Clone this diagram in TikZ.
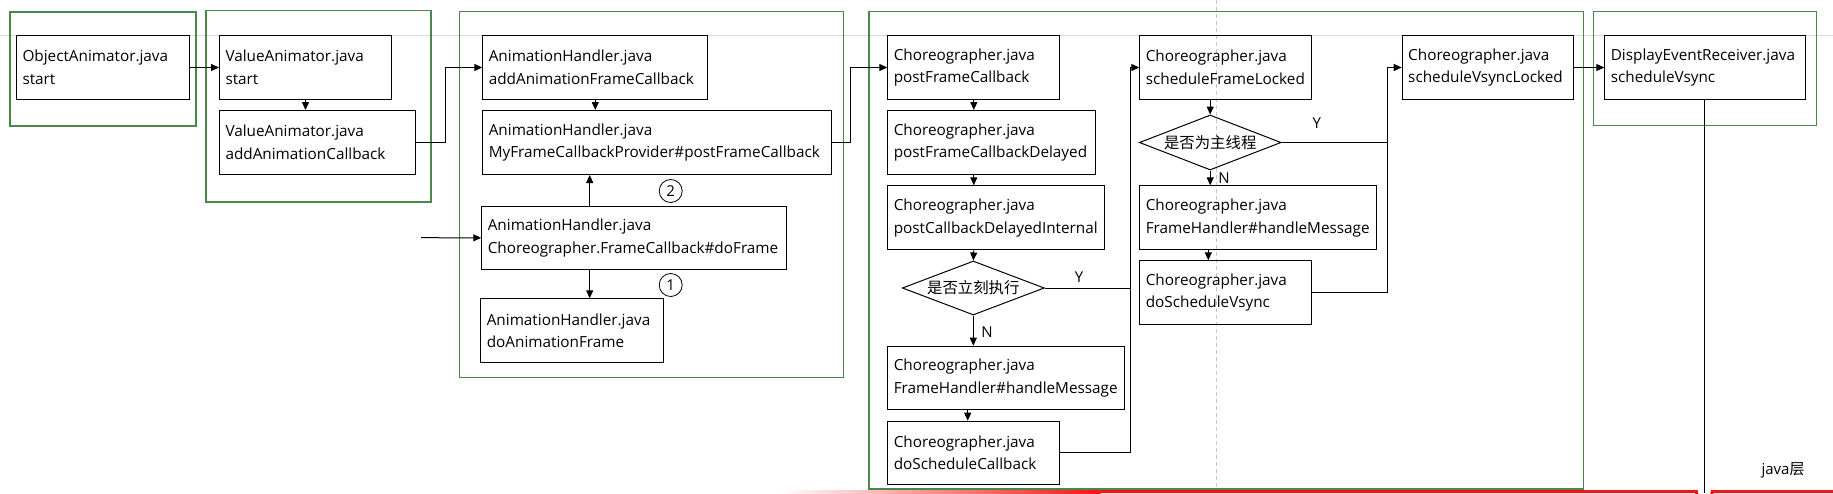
\documentclass[tikz,border=0pt]{standalone}
\usepackage{fontspec}
\setmainfont{Open Sans}
\newfontfamily\cjk{Noto Sans CJK SC}
\usetikzlibrary{arrows.meta,shapes.geometric,calc}
\definecolor{grp}{RGB}{74,135,74}
\definecolor{jumpred}{RGB}{245,20,20}
\tikzset{
  jb/.style={draw=black, line width=1pt, rectangle, anchor=north west, align=left,
    inner xsep=6pt, inner ysep=0pt, font=\fontsize{15.3}{22.7}\selectfont},
  grpbox/.style={draw=grp, line width=1.5pt},
  arr/.style={draw=black, line width=1pt, -{Triangle[length=8pt,width=7pt]}},
  ln/.style={draw=black, line width=1pt},
  dec/.style={draw=black, line width=1pt, diamond, aspect=2.63, inner sep=0pt,
    font=\cjk\fontsize{15.4}{18}\selectfont},
  num/.style={draw=black, line width=0.8pt, circle, minimum size=23pt, inner sep=0pt,
    font=\fontsize{15}{18}\selectfont},
  yn/.style={font=\fontsize{15}{18}\selectfont, inner sep=0pt}
}
\newcommand\jbox[6]{%
  \pgfmathsetmacro\bw{#4-#2}\pgfmathsetmacro\bh{#5-#3}\pgfmathsetmacro\tw{\bw-12}%
  \node[jb, minimum height=\bh pt, text width=\tw pt] (#1) at (#2,#3) {#6};}
\begin{document}
\begin{tikzpicture}[x=1pt,y=-1pt]
\useasboundingbox (0,0) rectangle (1833,493);
\fill[white] (0,0) rectangle (1833,493);
% background guides
\draw[gray!30, line width=1pt] (0,35) -- (1833,35);
\draw[gray!45, line width=0.8pt, dash pattern=on 4pt off 3pt] (1216.7,0) -- (1216.7,493);
% red layer line
\shade[left color=white, right color=jumpred] (780,490) rectangle (1100.5,493);
\draw[jumpred, line width=3pt] (1100,491.5) -- (1696.3,491.5) arc[start angle=180, end angle=0, radius=8] -- (1833,491.5);
% group frames
\draw[grpbox] (10,12) rectangle (196,126);
\draw[grpbox] (206,10.5) rectangle (431,202);
\draw[grpbox] (459.3,11.7) rectangle (843.3,377.7);
\draw[grpbox] (869,11.7) rectangle (1583.3,489);
\draw[grpbox] (1593.3,11.7) rectangle (1816.3,125.7);
% boxes
\jbox{oa}{16}{35}{189}{99}{ObjectAnimator.java\\start}
\jbox{vas}{219}{35}{391}{99}{ValueAnimator.java\\start}
\jbox{vaa}{219}{110}{415}{174}{ValueAnimator.java\\addAnimationCallback}
\jbox{ahA}{482.3}{35}{707.3}{99}{AnimationHandler.java\\addAnimationFrameCallback}
\jbox{ahM}{482.3}{110}{831.3}{174}{AnimationHandler.java\\MyFrameCallbackProvider\#postFrameCallback}
\jbox{ahD}{481.3}{205.7}{786.3}{269}{AnimationHandler.java\\Choreographer.FrameCallback\#doFrame}
\jbox{ahE}{480.3}{298.3}{663.3}{362.3}{AnimationHandler.java\\doAnimationFrame}
\jbox{cpf}{887.3}{35}{1059.3}{99}{Choreographer.java\\postFrameCallback}
\jbox{cpd}{887.3}{110}{1094.7}{174}{Choreographer.java\\postFrameCallbackDelayed}
\jbox{cpi}{887.3}{185.3}{1104.3}{249.3}{Choreographer.java\\postCallbackDelayedInternal}
\jbox{fh1}{887.3}{345.7}{1124.3}{409}{Choreographer.java\\FrameHandler\#handleMessage}
\jbox{dsc}{887.3}{420.7}{1059.3}{484}{Choreographer.java\\doScheduleCallback}
\jbox{sfl}{1139.3}{35}{1311.3}{99}{Choreographer.java\\scheduleFrameLocked}
\jbox{fh2}{1139.3}{185.3}{1376.3}{249.3}{Choreographer.java\\FrameHandler\#handleMessage}
\jbox{dsv}{1139.3}{260.3}{1311.3}{324}{Choreographer.java\\doScheduleVsync}
\jbox{svl}{1401.7}{35}{1573.3}{99}{Choreographer.java\\scheduleVsyncLocked}
\jbox{der}{1604.3}{35}{1805.3}{99}{DisplayEventReceiver.java\\scheduleVsync}
% decisions
\node[dec, minimum width=142pt, minimum height=54pt] (d1) at (973.3,288) {是否立刻执行};
\node[dec, minimum width=141.7pt, minimum height=55pt] (d2) at (1210.2,142.5) {是否为主线程};
% numbered circles
\node[num] (n2) at (670.7,191) {2};
\node[num] (n1) at (670.7,285) {1};
% labels
\node[yn] (y1) at (1079,276.7) {Y};
\node[yn] (no1) at (987,331.7) {N};
\node[yn] (y2) at (1316.7,123.3) {Y};
\node[yn] (no2) at (1224,177.7) {N};
\node[font=\fontsize{15}{18}\selectfont, inner sep=0pt] (jl) at (1783,470) {java{\cjk 层}};
% helper coordinates
\coordinate (inD) at (421,237.7);
\coordinate (xD) at (589.7,0);
\coordinate (xF) at (967.7,0);
\coordinate (xV) at (1208.3,0);
\coordinate (bot) at (1704.3,493);
% connectors
\draw[arr] (oa.east) -- (vas.west);
\draw[arr] (vas.south) -- (vas.south |- vaa.north);
\draw[arr] (vaa.east) -- ++(29,0) |- (ahA.west);
\draw[arr] (ahA.south) -- (ahA.south |- ahM.north);
\draw[arr] (xD |- ahD.north) -- (xD |- ahM.south);
\draw[arr] (xD |- ahD.south) -- (xD |- ahE.north);
\draw[arr] (inD) -- (ahD.west);
\draw[arr] (ahM.east) -- ++(18,0) |- (cpf.west);
\draw[arr] (cpf.south) -- (cpf.south |- cpd.north);
\draw[arr] (cpf.south |- cpd.south) -- (cpf.south |- cpi.north);
\draw[arr] (cpf.south |- cpi.south) -- (d1.north);
\draw[arr] (d1.south) -- (d1.south |- fh1.north);
\draw[arr] (xF |- fh1.south) -- (xF |- dsc.north);
\draw[arr] (dsc.east) -- ++(70,0) |- (sfl.west);
\draw[ln] (d1.east) -- ++(85,0);
\draw[arr] (d2.north |- sfl.south) -- (d2.north);
\draw[arr] (d2.south) -- (d2.south |- fh2.north);
\draw[arr] (xV |- fh2.south) -- (xV |- dsv.north);
\draw[arr] (dsv.east) -- ++(75,0) |- (svl.west);
\draw[ln] (d2.east) -- ++(105.3,0);
\draw[arr] (svl.east) -- (der.west);
\draw[ln] (bot |- der.south) -- (bot);
\end{tikzpicture}
\end{document}
